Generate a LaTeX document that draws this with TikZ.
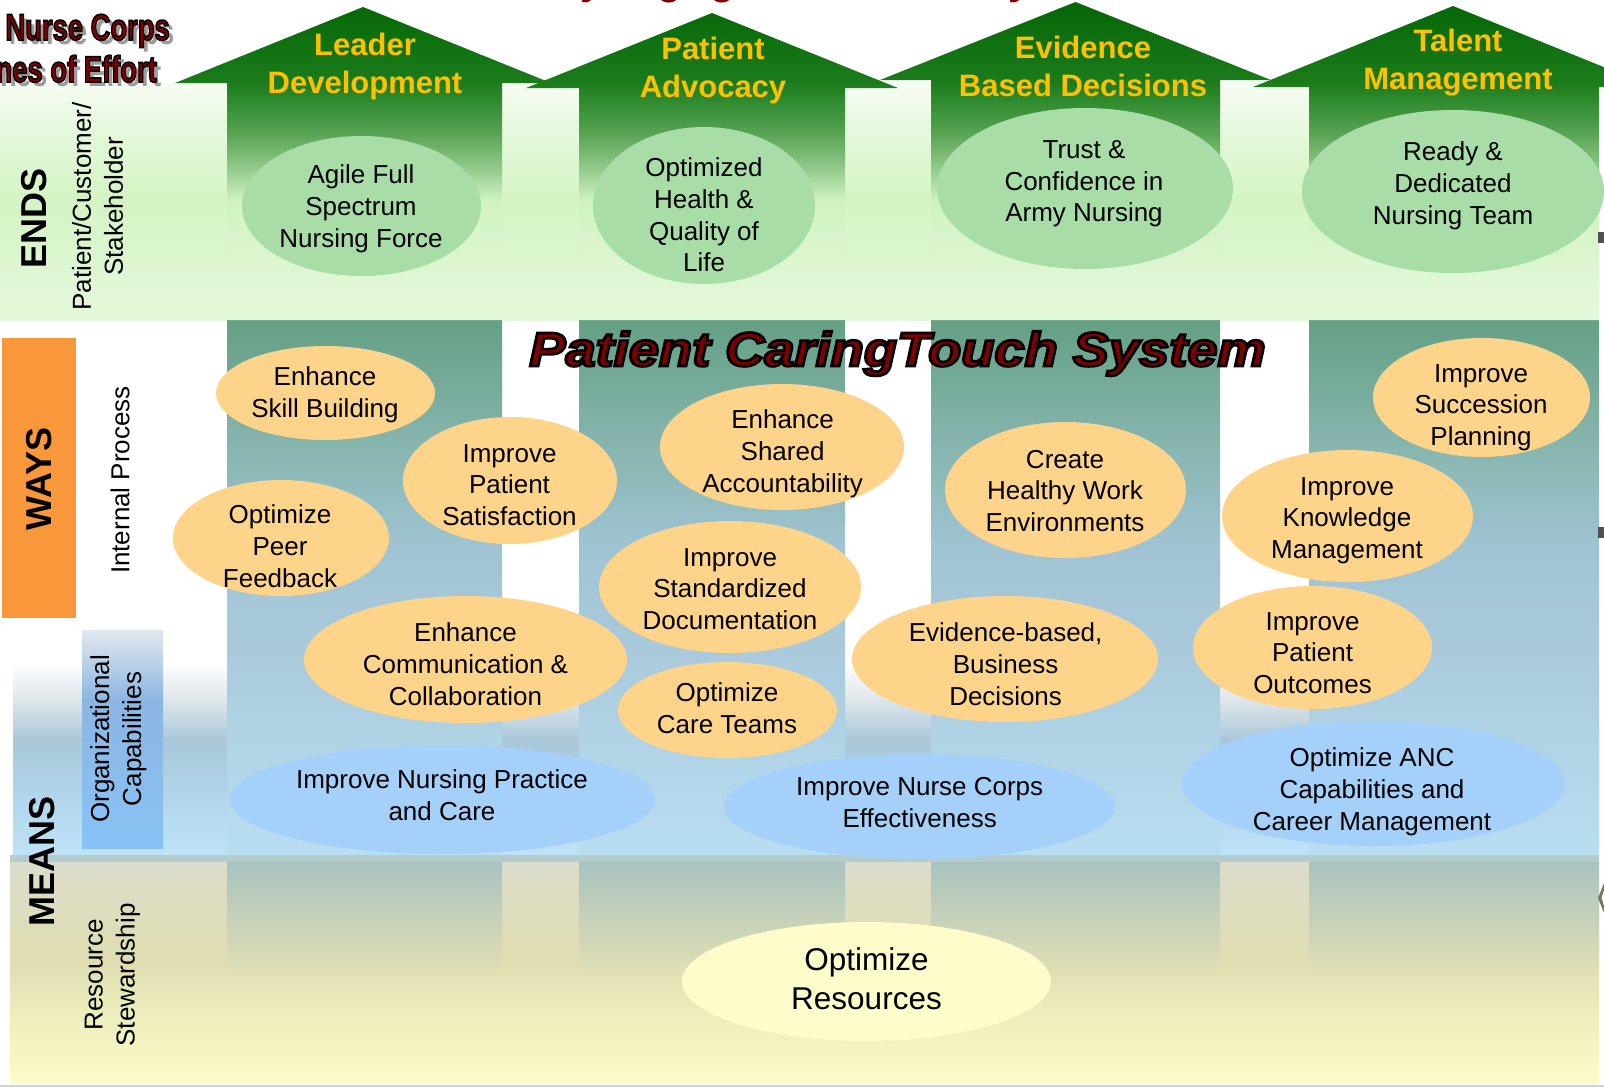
\documentclass[tikz,border=0pt]{standalone}
\usepackage{fontspec}
\setmainfont{Liberation Sans}
\usepackage{graphicx}
\usetikzlibrary{shapes.geometric}

% ---------- colours ----------
\definecolor{ar1}{HTML}{066606}
\definecolor{ar2}{HTML}{0F700F}
\definecolor{ar3}{HTML}{1C7C1C}
\definecolor{ar4}{HTML}{2E8A2E}
\definecolor{ar5}{HTML}{58A354}
\definecolor{ar6}{HTML}{90C888}
\definecolor{ar7}{HTML}{D0F2C2}
\definecolor{ar8}{HTML}{DCF6D0}
\definecolor{ar9}{HTML}{E6F8DC}
\definecolor{eb1}{HTML}{F6FCF2}
\definecolor{eb2}{HTML}{E2F8D8}
\definecolor{eb3}{HTML}{D4F4C4}
\definecolor{eb4}{HTML}{DCF6D0}
\definecolor{eb5}{HTML}{E6F8DC}
\definecolor{cs1}{HTML}{64A084}
\definecolor{cs2}{HTML}{88B6B0}
\definecolor{cs3}{HTML}{A0C4D4}
\definecolor{cs4}{HTML}{AACADC}
\definecolor{cs5}{HTML}{B8DEF2}
\definecolor{mb1}{HTML}{FAFBFC}
\definecolor{mb2}{HTML}{DFE6EA}
\definecolor{mb3}{HTML}{A9C7D9}
\definecolor{mb4}{HTML}{B2D6EC}
\definecolor{mb5}{HTML}{BEE2F6}
\definecolor{rb1}{HTML}{DCDCCC}
\definecolor{rb2}{HTML}{DFDDB0}
\definecolor{rb3}{HTML}{EFEFBE}
\definecolor{rb4}{HTML}{FCFCCA}
\definecolor{og1}{HTML}{E2E8EE}
\definecolor{og2}{HTML}{8CB6E2}
\definecolor{og3}{HTML}{88C2F6}
\definecolor{colres}{HTML}{A9C2C0}
\definecolor{colresb}{HTML}{E2E0B3}
\definecolor{stripc}{HTML}{B4CCCC}
\definecolor{waysor}{HTML}{F9983A}
\definecolor{ellGreen}{HTML}{A8DDA8}
\definecolor{ellOrange}{HTML}{FDD48A}
\definecolor{ellBlue}{HTML}{A4D0FA}
\definecolor{ellYellow}{HTML}{FEFCCB}
\definecolor{hdrYellow}{HTML}{FFC000}
\definecolor{titleRed}{HTML}{800000}
\definecolor{shadowgray}{HTML}{9C9C9C}
\definecolor{edgegray}{HTML}{505050}
\definecolor{chevc}{HTML}{77775F}

% ---------- shadings (inner 25bp..75bp = path box) ----------
\pgfdeclareverticalshading{arrowsh}{100bp}{color(0bp)=(ar9); color(25bp)=(ar9); color(34.38bp)=(ar8); color(43.75bp)=(ar7); color(48.91bp)=(ar6); color(54.22bp)=(ar5); color(59.38bp)=(ar4); color(62.03bp)=(ar3); color(68.75bp)=(ar2); color(75bp)=(ar1); color(100bp)=(ar1)}
\pgfdeclareverticalshading{endsband}{100bp}{color(0bp)=(eb5); color(25bp)=(eb5); color(37.66bp)=(eb4); color(50.32bp)=(eb3); color(62.97bp)=(eb2); color(75bp)=(eb1); color(100bp)=(eb1)}
\pgfdeclareverticalshading{colsh}{100bp}{color(0bp)=(cs5); color(25bp)=(cs5); color(44.16bp)=(cs4); color(53.5bp)=(cs3); color(62.85bp)=(cs2); color(75bp)=(cs1); color(100bp)=(cs1)}
\pgfdeclareverticalshading{meansband}{100bp}{color(0bp)=(mb5); color(25bp)=(mb5); color(39.63bp)=(mb4); color(55.59bp)=(mb3); color(66.22bp)=(mb2); color(75bp)=(mb1); color(100bp)=(mb1)}
\pgfdeclareverticalshading{resband}{100bp}{color(0bp)=(rb4); color(25bp)=(rb4); color(39.25bp)=(rb3); color(52.83bp)=(rb2); color(75bp)=(rb1); color(100bp)=(rb1)}
\pgfdeclareverticalshading{orgsh}{100bp}{color(0bp)=(og3); color(25bp)=(og3); color(58.94bp)=(og2); color(75bp)=(og1); color(100bp)=(og1)}

% outlined text (fill + black stroke)
\newcommand{\mkolon}[1]{\special{pdf:literal direct 2 Tr #1 w 0 0 0 RG}}
\newcommand{\mkoloff}{\special{pdf:literal direct 0 Tr}}

\tikzset{
  ellnode/.style={ellipse, inner sep=0pt, outer sep=0pt, draw=none},
  endsell/.style={ellnode, fill=ellGreen},
  wayell/.style={ellnode, fill=ellOrange},
  capell/.style={ellnode, fill=ellBlue},
  resell/.style={ellnode, fill=ellYellow},
  bodytxt/.style={font=\fontsize{26}{31.7}\selectfont, align=center, inner sep=0pt, text=black},
  bigtxt/.style={font=\fontsize{31.5}{39}\selectfont, align=center, inner sep=0pt, text=black},
  hdrtxt/.style={font=\fontsize{31}{38}\selectfont\bfseries, align=center, inner sep=0pt, text=hdrYellow},
  bandlbl/.style={font=\fontsize{36}{40}\selectfont\bfseries, rotate=90, inner sep=0pt, text=black},
  sublbl/.style={font=\fontsize{26}{32}\selectfont, rotate=90, align=center, inner sep=0pt, text=black},
  fragtxt/.style={font=\fontsize{40}{44}\selectfont\bfseries, inner sep=0pt, text=titleRed, anchor=base},
  ttltxt/.style={font=\fontsize{37}{40}\selectfont\bfseries, inner sep=0pt, anchor=base east},
  pcstxt/.style={font=\fontsize{48}{50}\selectfont\bfseries\itshape, inner sep=0pt, text=titleRed, anchor=base},
}
\newcommand{\mkell}[6]{\node[#1, minimum width=#5pt, minimum height=#6pt] (#2) at (#3,#4) {};}

\begin{document}
\begin{tikzpicture}[x=1pt,y=-1pt]
\useasboundingbox (0,0) rectangle (1604,1088);
\clip (0,0) rectangle (1604,1088);
\fill[white] (0,0) rectangle (1604,1088);

% title fragments cut by the top edge
\node[fragtxt] (fr1) at (592,-5.5) {y};
\node[fragtxt] (fr2) at (670,-5.5) {g};
\node[fragtxt] (fr3) at (723,-5.5) {g};
\node[fragtxt] (fr4) at (1020,-5.5) {y};

% ---------- background bands ----------
\shade[shading=endsband] (0,83) rectangle (1599,320);
\shade[shading=meansband] (13,667) rectangle (1599,855);
\shade[shading=resband] (10,862) rectangle (1599,1083);
\foreach \l/\r in {227/502,579/845,931/1220,1309/1599}{
  \shade[shading=colsh] (\l,320) rectangle (\r,855);
  \shade[top color=colres, bottom color=colresb] (\l,862) rectangle (\r,975);
}
\fill[stripc] (10,855) rectangle (1599,862);
\draw[gray!35, line width=2pt] (0,1086) -- (1604,1086);

% ---------- arrows (ends) ----------
\begin{scope}
\clip (175,83) -- (363,7) -- (551,83) -- (502,83) -- (502,320) -- (227,320) -- (227,83) -- cycle;
\shade[shading=arrowsh] (150,0) rectangle (600,320);
\end{scope}
\begin{scope}
\clip (526,88) -- (712,13) -- (898,88) -- (845,88) -- (845,320) -- (579,320) -- (579,88) -- cycle;
\shade[shading=arrowsh] (500,0) rectangle (920,320);
\end{scope}
\begin{scope}
\clip (880,80) -- (1075.5,2) -- (1271,80) -- (1220,80) -- (1220,320) -- (931,320) -- (931,80) -- cycle;
\shade[shading=arrowsh] (860,0) rectangle (1290,320);
\end{scope}
\begin{scope}
\clip (1253,87) -- (1453,6) -- (1653,87) -- (1599,87) -- (1599,320) -- (1309,320) -- (1309,87) -- cycle;
\shade[shading=arrowsh] (1240,0) rectangle (1670,320);
\end{scope}

% ---------- left label boxes ----------
\fill[waysor] (2,338) rectangle (76,618);
\shade[shading=orgsh] (82,630) rectangle (163,848);

% right edge bits
\fill[edgegray] (1598,232) rectangle (1604,243);
\fill[edgegray] (1598,527) rectangle (1604,538);
\fill[chevc] (1604,883) -- (1598,898) -- (1604,913) -- (1604,906) -- (1601.5,898) -- (1604,890) -- cycle;

% ---------- band labels ----------
\node[bandlbl] (ends) at (34,218.5) {ENDS};
\node[bandlbl] (ways) at (39,479) {WAYS};
\node[bandlbl] (means) at (42,861) {MEANS};
\node[sublbl] (pcs1) at (97.5,206.5) {Patient/Customer/\\Stakeholder};
\node[sublbl] (ip) at (120,480) {Internal Process};
\node[sublbl] (oc) at (118.5,739) {Organizational\\Capabilities};
\node[sublbl] (rs) at (112.5,975) {Resource\\Stewardship};

% ---------- headers ----------
\node[hdrtxt] (h1) at (365,66.5) {Leader\\Development};
\node[hdrtxt] (h2) at (713,70.7) {Patient\\Advocacy};
\node[hdrtxt] (h3) at (1083,66.5) {Evidence\\Based Decisions};
\node[hdrtxt] (h4) at (1458,63) {Talent\\Management};

% ---------- ellipses ----------
\mkell{endsell}{e1}{361.5}{206}{239}{140}
\mkell{endsell}{e2}{704}{205.5}{222}{157}
\mkell{endsell}{e3}{1085}{188.5}{296}{161}
\mkell{endsell}{e4}{1453}{191.5}{302}{163}
\mkell{wayell}{o1}{325.5}{393}{219}{94}
\mkell{wayell}{o2}{510}{480.5}{214}{127}
\mkell{wayell}{o3}{281}{538}{216}{116}
\mkell{wayell}{o4}{782}{447}{244}{126}
\mkell{wayell}{o5}{730}{587}{262}{132}
\mkell{wayell}{o6}{1065.5}{490}{241}{136}
\mkell{wayell}{o7}{1481.5}{397.5}{217}{119}
\mkell{wayell}{o8}{1347.5}{516}{251}{132}
\mkell{wayell}{o9}{465.5}{659.5}{323}{127}
\mkell{wayell}{o10}{727.5}{710}{219}{96}
\mkell{wayell}{o11}{1005}{659}{306}{126}
\mkell{wayell}{o12}{1312.5}{647.5}{239}{123}
\mkell{capell}{b1}{442.5}{799.5}{425}{109}
\mkell{capell}{b2}{919.5}{806.5}{391}{105}
\mkell{capell}{b3}{1373.5}{783.5}{383}{125}
\mkell{resell}{y1}{866.5}{981.5}{369}{119}

% ---------- ellipse texts ----------
\node[bodytxt] (e1t) at (361,208.7) {Agile Full\\Spectrum\\Nursing Force};
\node[bodytxt] (e2t) at (704,215) {Optimized\\Health \&\\Quality of\\Life};
\node[bodytxt] (e3t) at (1084,183.7) {Trust \&\\Confidence in\\Army Nursing};
\node[bodytxt] (e4t) at (1453,185.7) {Ready \&\\Dedicated\\Nursing Team};
\node[bodytxt] (o1t) at (325,394.7) {Enhance\\Skill Building};
\node[bodytxt] (o2t) at (509.5,485) {Improve\\Patient\\Satisfaction};
\node[bodytxt] (o3t) at (280,546) {Optimize\\Peer\\Feedback};
\node[bodytxt] (o4t) at (782.6,453.7) {Enhance\\Shared\\Accountability};
\node[bodytxt] (o5t) at (730,589) {Improve\\Standardized\\Documentation};
\node[bodytxt] (o6t) at (1065,491) {Create\\Healthy Work\\Environments};
\node[bodytxt] (o7t) at (1481,407.7) {Improve\\Succession\\Planning};
\node[bodytxt] (o8t) at (1347,520.7) {Improve\\Knowledge\\Management};
\node[bodytxt] (o9t) at (465.5,664) {Enhance\\Communication \&\\Collaboration};
\node[bodytxt] (o10t) at (727,708) {Optimize\\Care Teams};
\node[bodytxt] (o11t) at (1005.6,664) {Evidence-based,\\Business\\Decisions};
\node[bodytxt] (o12t) at (1312.5,653) {Improve\\Patient\\Outcomes};
\node[bodytxt] (b1t) at (442,795) {Improve Nursing Practice\\and Care};
\node[bodytxt] (b2t) at (919.7,802.5) {Improve Nurse Corps\\Effectiveness};
\node[bodytxt] (b3t) at (1372,791.7) {Optimize ANC\\Capabilities and\\Career Management};
\node[bigtxt] (y1t) at (866.5,979) {Optimize\\Resources};

% ---------- system title ----------
\node[pcstxt] (pcs) at (897.5,366) {\scalebox{1.13}[1]{\mkolon{2.6}Patient CaringTouch System\mkoloff}};

% ---------- top-left title ----------
\node[ttltxt, text=shadowgray] (t1s) at (174.5,44.5) {\scalebox{0.74}[1]{Nurse Corps}};
\node[ttltxt, text=shadowgray] (t2s) at (161.5,86.5) {\scalebox{0.74}[1]{nes of Effort}};
\node[ttltxt, text=titleRed] (t1) at (170,40) {\scalebox{0.74}[1]{\mkolon{1.6}Nurse Corps\mkoloff}};
\node[ttltxt, text=titleRed] (t2) at (157,82) {\scalebox{0.74}[1]{\mkolon{1.6}nes of Effort\mkoloff}};
\end{tikzpicture}
\end{document}
